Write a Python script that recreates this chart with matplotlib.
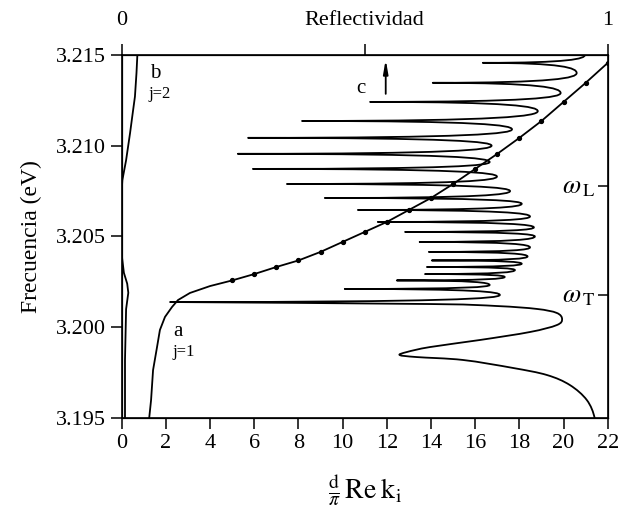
import numpy as np
import matplotlib
matplotlib.use('Agg')
import matplotlib.pyplot as plt
from matplotlib.path import Path
from matplotlib.patches import PathPatch

plt.rcParams['font.family'] = ['Liberation Serif', 'DejaVu Serif']
plt.rcParams['mathtext.fontset'] = 'stix'

# curve a (j=1): lower part, then the marked points at integer d/pi Re k
a_low_k = [1.24, 1.33, 1.42, 1.60, 1.73, 1.96, 2.28, 2.55, 3.09, 4.0]
a_low_f = [3.19494, 3.19599, 3.19764, 3.19891, 3.19985, 3.20057, 3.20112, 3.20150, 3.20189, 3.20227]
dot_k = [5, 6, 7, 8, 9, 10, 11, 12, 13, 14, 15, 16, 17, 18, 19, 20, 21, 22]
dot_f = [3.20258, 3.20293, 3.20332, 3.20368, 3.20415, 3.20470, 3.20525, 3.20580, 3.20646,
         3.20712, 3.20789, 3.20872, 3.20955, 3.21043, 3.21136, 3.21241, 3.21346, 3.21456]

# curve b (j=2)
b_k = [0.15, 0.15, 0.2, 0.3, 0.25, 0.1, 0.02, 0.0, 0.0, 0.03, 0.2, 0.38, 0.5, 0.6, 0.67, 0.71]
b_f = [3.1950, 3.1982, 3.2010, 3.2019, 3.2024, 3.2030, 3.2038, 3.2050, 3.2075, 3.2081,
       3.2092, 3.2107, 3.2118, 3.2127, 3.2140, 3.2150]

# reflectivity (curve c), read from bottom to top
R_low = [0.973, 0.957, 0.922, 0.875, 0.805, 0.702, 0.607, 0.572, 0.587, 0.634, 0.737, 0.840,
         0.895, 0.906, 0.895, 0.854, 0.772, 0.634, 0.0995]
f_low = [3.1950, 3.19599, 3.19682, 3.19737, 3.19776, 3.19820, 3.19836, 3.19847, 3.19864, 3.19891,
         3.19930, 3.19974, 3.20012, 3.20045, 3.20079, 3.20101, 3.20117, 3.20128, 3.20139]
# fringes above: maxima (even index) and sharp minima (odd index), alternating
R_fr = [0.778, 0.459, 0.757, 0.566, 0.788, 0.624, 0.809, 0.628, 0.823, 0.638, 0.835, 0.632,
        0.840, 0.613, 0.850, 0.583, 0.848, 0.527, 0.840, 0.486, 0.823, 0.418, 0.799, 0.340,
        0.772, 0.270, 0.757, 0.239, 0.761, 0.260, 0.803, 0.371, 0.856, 0.511, 0.903, 0.640,
        0.936, 0.743, 0.953]
f_fr = [3.20178, 3.20211, 3.20233, 3.20258, 3.20277, 3.20293, 3.20315, 3.20332, 3.20350, 3.20368,
        3.20390, 3.20415, 3.20440, 3.20470, 3.20500, 3.20525, 3.20550, 3.20580, 3.20610, 3.20646,
        3.20680, 3.20712, 3.20750, 3.20789, 3.20830, 3.20872, 3.20910, 3.20955, 3.21000, 3.21043,
        3.21090, 3.21136, 3.21190, 3.21241, 3.21290, 3.21346, 3.21400, 3.21456, 3.21500]

w_T = 3.2018
w_L = 3.2078

fig = plt.figure(figsize=(6.24, 5.08), dpi=100)
ax = fig.add_axes([0.195, 0.177, 0.779, 0.715])

ax.plot(a_low_k + dot_k, a_low_f + dot_f, color='k', lw=1.3)
ax.plot(dot_k, dot_f, 'o', color='k', ms=2.8)
ax.plot(b_k, b_f, color='k', lw=1.3)

ax.set_xlim(0, 22)
ax.set_ylim(3.195, 3.215)
ax.set_xticks(np.arange(0, 23, 2))
ax.set_yticks([3.195, 3.200, 3.205, 3.210, 3.215])
ax.set_yticklabels(['3.195', '3.200', '3.205', '3.210', '3.215'])
ax.tick_params(direction='out', length=8, width=1.1, labelsize=16, top=False, right=False)
ax.set_ylabel('Frecuencia (eV)', fontsize=17, labelpad=10)
ax.set_xlabel(r'$\frac{\mathrm{d}}{\pi}\,\mathrm{Re\;k_{i}}$', fontsize=20, labelpad=14)
for s in ax.spines.values():
    s.set_linewidth(1.2)

ax.text(1.3, 3.2137, 'b', fontsize=15)
ax.text(1.2, 3.2126, 'j=2', fontsize=12)
ax.text(2.35, 3.1995, 'a', fontsize=15)
ax.text(2.3, 3.1984, 'j=1', fontsize=12)
ax.text(10.6, 3.2129, 'c', fontsize=15)
ax.annotate('', xy=(11.95, 3.2149), xytext=(11.95, 3.2127),
            arrowprops=dict(arrowstyle='-|>,head_width=0.14,head_length=0.8', color='k', lw=1.3))

# top axis: reflectivity
ax2 = ax.twiny()
ax2.set_xlim(0, 1)

# lower part: smooth curve through the read points (vertical start at the bottom edge)
P = np.column_stack([R_low, f_low])
prev0 = np.array([P[0, 0], 2 * P[0, 1] - P[1, 1]])
ext = np.vstack([prev0, P, P[-1]])
verts = [tuple(P[0])]
codes = [Path.MOVETO]
for i in range(len(P) - 1):
    p0, p1, p2, p3 = ext[i], ext[i + 1], ext[i + 2], ext[i + 3]
    c1 = p1 + (p2 - p0) / 6
    c2 = p2 - (p3 - p1) / 6
    verts += [tuple(c1), tuple(c2), tuple(p2)]
    codes += [Path.CURVE4] * 3

# fringes: sharp at the minima, rounded at the maxima
pr, pf = R_low[-1], f_low[-1]
for i, (r, f) in enumerate(zip(R_fr, f_fr)):
    if i % 2 == 0:   # minimum -> maximum
        c1 = (pr + 0.85 * (r - pr), pf)
        c2 = (r, f - 0.5 * (f - pf))
    else:            # maximum -> minimum
        c1 = (pr, pf + 0.5 * (f - pf))
        c2 = (r + 0.85 * (pr - r), f)
    verts += [c1, c2, (r, f)]
    codes += [Path.CURVE4] * 3
    pr, pf = r, f
ax2.add_patch(PathPatch(Path(verts, codes), fill=False, edgecolor='k', lw=1.3,
                        transform=ax2.transData, joinstyle='round', capstyle='round'))

ax2.set_xticks([0, 0.5, 1])
ax2.set_xticklabels(['0', 'Reflectividad', '1'])
ax2.get_xticklabels()[1].set_fontsize(17)
ax2.tick_params(axis='x', direction='out', length=8, width=1.1, labelsize=16, pad=10)

# right axis: omega_T, omega_L
axr = ax.twinx()
axr.set_ylim(3.195, 3.215)
axr.set_yticks([w_T, w_L])
axr.set_yticklabels([r'$\omega_{\,\mathrm{T}}$', r'$\omega_{\,\mathrm{L}}$'], ha='right')
axr.tick_params(axis='y', direction='in', length=7, width=1.1, labelsize=19, pad=-9)

fig.savefig('out.png', dpi=100)
